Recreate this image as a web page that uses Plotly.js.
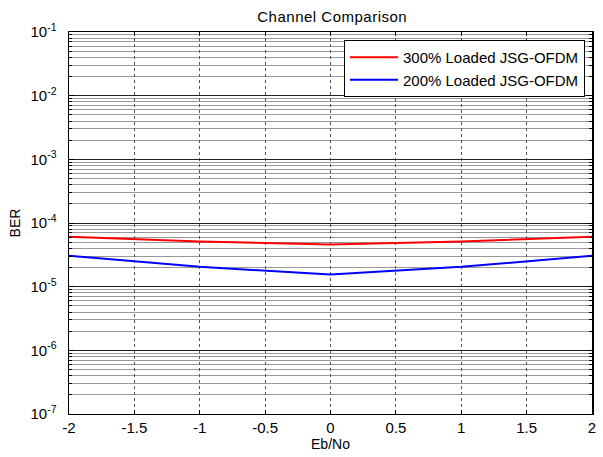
<!DOCTYPE html>
<html>
<head>
<meta charset="utf-8">
<script src="https://cdn.plot.ly/plotly-3.0.1.min.js"></script>
<style>
html,body{margin:0;padding:0;background:#fff;}
#chart{width:603px;height:457px;}
#chart .gtitle{letter-spacing:0.5px;}
</style>
</head>
<body>
<div id="chart"></div>
<script>
const ebno = [-2, -1, 0, 1, 2];
const ber300 = [6.1e-5, 5.1e-5, 4.6e-5, 5.1e-5, 6.1e-5];
const ber200 = [3.05e-5, 2.05e-5, 1.55e-5, 2.05e-5, 3.05e-5];
const seriesNames = ['300% Loaded JSG-OFDM', '200% Loaded JSG-OFDM'];
const yTickVals = [1e-7, 1e-6, 1e-5, 1e-4, 1e-3, 1e-2, 1e-1];
const yTickText = ['10<sup>-7</sup>', '10<sup>-6</sup>', '10<sup>-5</sup>', '10<sup>-4</sup>', '10<sup>-3</sup>', '10<sup>-2</sup>', '10<sup>-1</sup>'];
const xTickVals = [-2, -1.5, -1, -0.5, 0, 0.5, 1, 1.5, 2];
const xTickText = ['-2', '-1.5', '-1', '-0.5', '0', '0.5', '1', '1.5', '2'];

const minorVals = [];
for (let e = -7; e < -1; e++) {
  for (let m = 2; m <= 9; m++) minorVals.push(m * Math.pow(10, e));
}

const fam = 'Liberation Sans, Arial, sans-serif';

const traces = [
  {x: ebno, y: ber300, name: seriesNames[0], mode: 'lines', line: {color: '#ff0000', width: 2}},
  {x: ebno, y: ber200, name: seriesNames[1], mode: 'lines', line: {color: '#0000ff', width: 2}}
];

const layout = {
  width: 603, height: 457,
  margin: {l: 69, r: 11, t: 32, b: 43},
  paper_bgcolor: '#fff', plot_bgcolor: '#fff',
  font: {family: fam, size: 14, color: '#000'},
  title: {text: 'Channel Comparison', font: {family: fam, size: 15, color: '#000'}, x: 0.551, xanchor: 'center', y: 0.964, yanchor: 'middle'},
  showlegend: true,
  legend: {
    x: 0.9866, xanchor: 'right', y: 0.979, yanchor: 'top',
    bgcolor: '#fff', bordercolor: '#000', borderwidth: 1,
    font: {family: fam, size: 15, color: '#000'},
    tracegroupgap: 0, itemwidth: 48
  },
  xaxis: {
    range: [-2, 2],
    tickmode: 'array', tickvals: xTickVals, ticktext: xTickText,
    ticks: 'inside', ticklen: 4, tickcolor: '#000',
    showline: true, linecolor: '#000', linewidth: 1, mirror: 'ticks',
    showgrid: true, gridcolor: '#555', griddash: 'dot', gridwidth: 1,
    zeroline: false,
    tickfont: {family: fam, size: 15, color: '#000'},
    title: {text: 'Eb/No', font: {family: fam, size: 14, color: '#000'}, standoff: 4}
  },
  yaxis: {
    type: 'log', range: [-7, -1],
    tickmode: 'array', tickvals: yTickVals, ticktext: yTickText,
    ticks: 'inside', ticklen: 5, tickcolor: '#000',
    showline: true, linecolor: '#000', linewidth: 1.5, mirror: 'ticks',
    showgrid: true, gridcolor: '#222', gridwidth: 1,
    zeroline: false,
    tickfont: {family: fam, size: 15, color: '#000'},
    ticklabelstandoff: 8,
    minor: {tickmode: 'array', tickvals: minorVals, ticks: 'inside', ticklen: 3, tickcolor: '#000', showgrid: true, gridcolor: '#999', gridwidth: 1},
    title: {text: 'BER', font: {family: fam, size: 14, color: '#000'}, standoff: 6}
  }
};

Plotly.newPlot('chart', traces, layout, {displayModeBar: false, staticPlot: true});
</script>
</body>
</html>
